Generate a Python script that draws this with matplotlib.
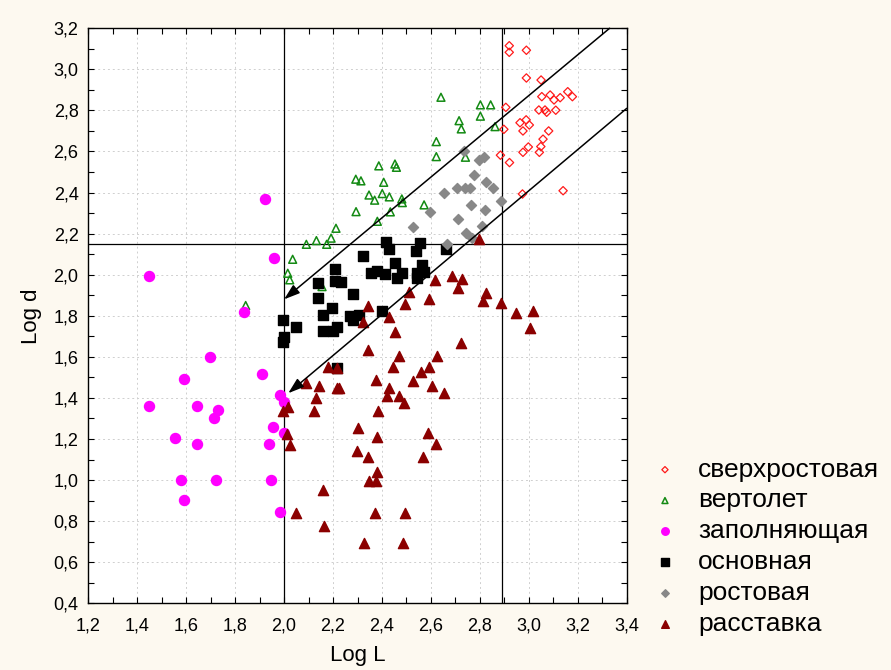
import matplotlib
matplotlib.use("Agg")
from matplotlib import pyplot as plt
from matplotlib.ticker import MultipleLocator

plt.rcParams['font.family'] = ['Liberation Sans', 'DejaVu Sans']

# сверхростовая
over_x = [2.92, 2.92, 2.99, 2.99, 3.05, 3.053, 3.087, 3.103, 3.128, 3.159, 3.178,
          2.906, 3.041, 3.066, 3.11, 3.073, 2.989, 2.964, 3.002, 2.976, 2.898,
          3.081, 3.058, 3.049, 2.998, 2.976, 3.043, 2.884, 2.921, 2.974, 3.14]
over_y = [3.115, 3.083, 3.093, 2.958, 2.948, 2.867, 2.875, 2.851, 2.862, 2.891, 2.867,
          2.815, 2.802, 2.802, 2.801, 2.791, 2.754, 2.74, 2.729, 2.70, 2.708,
          2.70, 2.66, 2.624, 2.622, 2.596, 2.596, 2.582, 2.546, 2.393, 2.409]

# вертолет
heli_x = [2.293, 2.294, 2.212, 2.192, 2.174, 2.132, 2.091, 2.035, 2.015, 2.023, 2.155,
          1.843, 2.641, 2.802, 2.844, 2.802, 2.715, 2.724, 2.862, 2.622, 2.622,
          2.741, 2.387, 2.453, 2.459, 2.314, 2.407, 2.347, 2.401, 2.37, 2.43,
          2.481, 2.483, 2.572, 2.434, 2.381]
heli_y = [2.465, 2.307, 2.226, 2.178, 2.148, 2.166, 2.148, 2.075, 2.007, 1.975, 1.942,
          1.850, 2.864, 2.827, 2.827, 2.772, 2.75, 2.71, 2.721, 2.648, 2.575,
          2.572, 2.53, 2.539, 2.523, 2.457, 2.45, 2.388, 2.395, 2.363, 2.379,
          2.369, 2.351, 2.34, 2.306, 2.26]

# заполняющая
fill_x = [1.923, 1.958, 1.447, 1.836, 1.697, 1.592, 1.911, 1.983, 2.0, 1.447, 1.643,
          1.731, 1.715, 1.956, 2.0, 1.556, 1.643, 1.938, 1.579, 1.722, 1.948,
          1.592, 1.983]
fill_y = [2.369, 2.08, 1.993, 1.819, 1.601, 1.491, 1.517, 1.415, 1.379, 1.361, 1.361,
          1.342, 1.301, 1.256, 1.228, 1.205, 1.175, 1.176, 1.0, 1.0, 1.0,
          0.904, 0.845]

# основная
main_x = [2.415, 2.429, 2.556, 2.538, 2.661, 2.324, 2.453, 2.562, 2.208, 2.354, 2.381,
          2.412, 2.481, 2.46, 2.542, 2.572, 2.542, 2.208, 2.231, 2.14, 2.283,
          2.14, 2.195, 2.158, 2.399, 2.27, 2.308, 2.283, 1.994, 2.049, 2.16,
          2.201, 2.215, 2.001, 1.997, 2.215]
main_y = [2.161, 2.124, 2.153, 2.117, 2.126, 2.093, 2.056, 2.048, 2.027, 2.007, 2.02,
          2.004, 2.007, 1.986, 2.007, 2.015, 1.983, 1.971, 1.963, 1.961, 1.905,
          1.888, 1.837, 1.804, 1.824, 1.799, 1.804, 1.78, 1.78, 1.747, 1.728,
          1.726, 1.747, 1.699, 1.674, 1.545]

# ростовая
grow_x = [2.737, 2.795, 2.817, 2.775, 2.825, 2.655, 2.708, 2.739, 2.76, 2.853,
          2.763, 2.885, 2.595, 2.821, 2.712, 2.526, 2.81, 2.745, 2.769, 2.665]
grow_y = [2.604, 2.559, 2.574, 2.486, 2.453, 2.40, 2.421, 2.424, 2.421, 2.421,
          2.34, 2.361, 2.304, 2.315, 2.272, 2.231, 2.239, 2.202, 2.178, 2.15]

# расставка
spac_x = [2.798, 2.685, 2.726, 2.617, 2.712, 2.825, 2.814, 2.887, 2.512, 2.591, 2.494,
          2.948, 3.019, 3.005, 2.342, 2.429, 2.324, 2.453, 2.723, 2.342, 2.471,
          2.624, 2.444, 2.591, 2.178, 2.215, 2.558, 2.374, 2.526, 2.09, 2.144,
          2.215, 2.225, 2.43, 2.606, 2.654, 2.419, 2.47, 2.491, 2.129, 2.017,
          1.997, 2.122, 2.383, 2.301, 2.587, 2.381, 2.011, 2.62, 2.024, 2.297,
          2.342, 2.569, 2.379, 2.348, 2.374, 2.16, 2.048, 2.372, 2.494, 2.164,
          2.328, 2.487]
spac_y = [2.175, 1.994, 1.979, 1.975, 1.934, 1.913, 1.874, 1.861, 1.915, 1.881, 1.856,
          1.812, 1.823, 1.739, 1.848, 1.796, 1.772, 1.723, 1.669, 1.634, 1.606,
          1.606, 1.552, 1.552, 1.552, 1.547, 1.528, 1.488, 1.484, 1.472, 1.459,
          1.447, 1.447, 1.447, 1.459, 1.426, 1.41, 1.41, 1.377, 1.399, 1.358,
          1.338, 1.338, 1.338, 1.253, 1.228, 1.208, 1.222, 1.175, 1.171, 1.142,
          1.111, 1.111, 1.041, 0.997, 0.997, 0.952, 0.842, 0.842, 0.842, 0.774,
          0.693, 0.693]

# граничные линии
h_level = 2.15
v_levels = [2.0, 2.89]
upper_arrow = [(3.33, 3.2), (2.0, 1.88)]
lower_arrow = [(3.4, 2.81), (2.017, 1.423)]

x_ticks = [1.2, 1.4, 1.6, 1.8, 2.0, 2.2, 2.4, 2.6, 2.8, 3.0, 3.2, 3.4]
y_ticks = [0.4, 0.6, 0.8, 1.0, 1.2, 1.4, 1.6, 1.8, 2.0, 2.2, 2.4, 2.6, 2.8, 3.0, 3.2]

fig = plt.figure(figsize=(8.91, 6.7), dpi=100)
fig.patch.set_facecolor('#fdf9f0')
ax = fig.add_axes([0.0991, 0.0996, 0.6043, 0.8582])
ax.set_facecolor('white')

ax.scatter(over_x, over_y, marker='D', s=18, facecolors='none', edgecolors='#ff1a1a',
           linewidths=0.9, label='сверхростовая', zorder=3)
ax.scatter(heli_x, heli_y, marker='^', s=32, facecolors='none', edgecolors='#138a13',
           linewidths=1.1, label='вертолет', zorder=3)
ax.scatter(fill_x, fill_y, marker='o', s=52, color='#ff00ff', label='заполняющая', zorder=3)
ax.scatter(main_x, main_y, marker='s', s=62, color='black', label='основная', zorder=3)
ax.scatter(grow_x, grow_y, marker='D', s=26, color='#888888', label='ростовая', zorder=3)
ax.scatter(spac_x, spac_y, marker='^', s=54, color='#8b0000', label='расставка', zorder=3)

ax.axhline(h_level, color='black', lw=0.9, zorder=2)
for v in v_levels:
    ax.axvline(v, color='black', lw=0.9, zorder=2)

for start, end in [upper_arrow, lower_arrow]:
    ax.annotate('', xy=end, xytext=start, annotation_clip=False,
                arrowprops=dict(arrowstyle='-|>,head_length=0.6,head_width=0.2',
                                color='black', lw=1.1, mutation_scale=16,
                                shrinkA=0, shrinkB=0))

ax.set_xlim(1.2, 3.4)
ax.set_ylim(0.4, 3.2)
ax.set_xticks(x_ticks)
ax.set_yticks(y_ticks)
ax.set_xticklabels([f'{t:.1f}'.replace('.', ',') for t in x_ticks])
ax.set_yticklabels([f'{t:.1f}'.replace('.', ',') for t in y_ticks])
ax.xaxis.set_minor_locator(MultipleLocator(0.1))
ax.yaxis.set_minor_locator(MultipleLocator(0.1))
ax.tick_params(which='both', direction='in', top=True, right=True, labelsize=13,
               length=4, width=0.8)
ax.tick_params(axis='x', which='major', pad=10)
ax.tick_params(axis='y', which='major', pad=7)
ax.grid(True, which='major', color='#cfcfcf', linestyle=(0, (2, 3)), lw=0.7, zorder=0)
for sp in ax.spines.values():
    sp.set_linewidth(1.0)

ax.set_xlabel('Log L', fontsize=16, labelpad=8)
ax.set_ylabel('Log d', fontsize=16, labelpad=8)

ax.legend(loc='upper left', bbox_to_anchor=(0.7167, 0.317), bbox_transform=fig.transFigure,
          frameon=False, fontsize=19, handletextpad=0.25, labelspacing=0.26,
          markerscale=0.75, borderaxespad=0, borderpad=0)

fig.savefig('out.png', dpi=100, facecolor=fig.get_facecolor())
